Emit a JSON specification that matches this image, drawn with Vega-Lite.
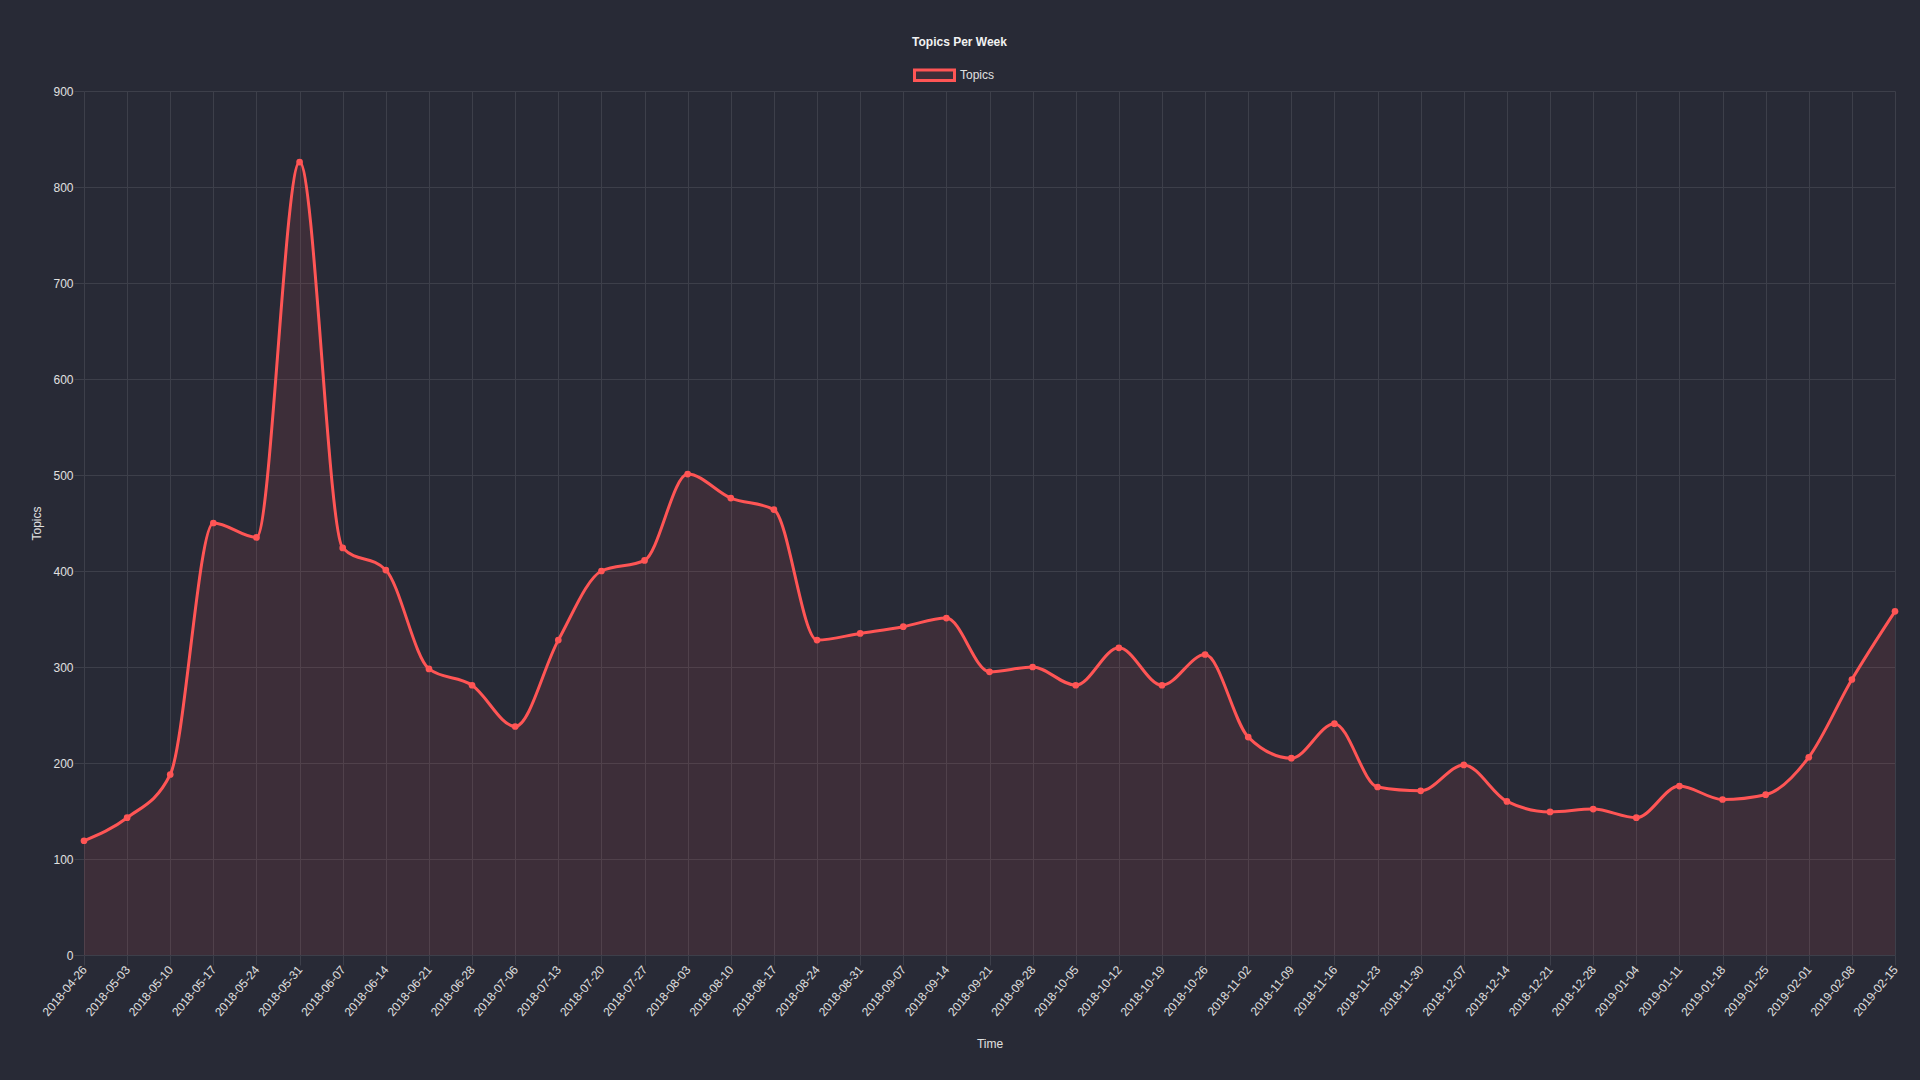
{
  "$schema": "https://vega.github.io/schema/vega-lite/v6.json",
  "width": 1811,
  "height": 864,
  "autosize": {"type": "none"},
  "padding": {"left": 84, "top": 91, "right": 25, "bottom": 125},
  "background": "#282a36",
  "title": {
    "text": "Topics Per Week",
    "fontSize": 12,
    "fontWeight": "bold",
    "color": "#f2f2f2",
    "font": "Liberation Sans",
    "anchor": "middle",
    "offset": 5,
    "dx": -30
  },
  "data": {
    "values": [
      {"week": "2018-04-26", "topics": 119},
      {"week": "2018-05-03", "topics": 143},
      {"week": "2018-05-10", "topics": 188},
      {"week": "2018-05-17", "topics": 450},
      {"week": "2018-05-24", "topics": 435},
      {"week": "2018-05-31", "topics": 826},
      {"week": "2018-06-07", "topics": 424},
      {"week": "2018-06-14", "topics": 401},
      {"week": "2018-06-21", "topics": 298},
      {"week": "2018-06-28", "topics": 281},
      {"week": "2018-07-06", "topics": 238},
      {"week": "2018-07-13", "topics": 328},
      {"week": "2018-07-20", "topics": 400},
      {"week": "2018-07-27", "topics": 411},
      {"week": "2018-08-03", "topics": 501},
      {"week": "2018-08-10", "topics": 476},
      {"week": "2018-08-17", "topics": 464},
      {"week": "2018-08-24", "topics": 328},
      {"week": "2018-08-31", "topics": 335},
      {"week": "2018-09-07", "topics": 342},
      {"week": "2018-09-14", "topics": 351},
      {"week": "2018-09-21", "topics": 295},
      {"week": "2018-09-28", "topics": 300},
      {"week": "2018-10-05", "topics": 281},
      {"week": "2018-10-12", "topics": 320},
      {"week": "2018-10-19", "topics": 281},
      {"week": "2018-10-26", "topics": 313},
      {"week": "2018-11-02", "topics": 227},
      {"week": "2018-11-09", "topics": 205},
      {"week": "2018-11-16", "topics": 241},
      {"week": "2018-11-23", "topics": 175},
      {"week": "2018-11-30", "topics": 171},
      {"week": "2018-12-07", "topics": 198},
      {"week": "2018-12-14", "topics": 160},
      {"week": "2018-12-21", "topics": 149},
      {"week": "2018-12-28", "topics": 152},
      {"week": "2019-01-04", "topics": 143},
      {"week": "2019-01-11", "topics": 176},
      {"week": "2019-01-18", "topics": 162},
      {"week": "2019-01-25", "topics": 167},
      {"week": "2019-02-01", "topics": 206},
      {"week": "2019-02-08", "topics": 287},
      {"week": "2019-02-15", "topics": 358}
    ]
  },
  "encoding": {
    "x": {
      "field": "week",
      "type": "ordinal",
      "sort": null,
      "scale": {"type": "point", "padding": 0},
      "axis": {
        "title": "Time",
        "titleX": 905.5,
        "titleY": 88,
        "titleAlign": "center",
        "titleBaseline": "middle",
        "labelAngle": -50,
        "labelAlign": "right",
        "labelBaseline": "middle",
        "labelPadding": 2,
        "labelOverlap": false,
        "tickSize": 10
      }
    },
    "y": {
      "field": "topics",
      "type": "quantitative",
      "scale": {"domain": [0, 900], "nice": false, "zero": true},
      "axis": {
        "title": "Topics",
        "values": [0, 100, 200, 300, 400, 500, 600, 700, 800, 900],
        "titleX": -48,
        "titleY": 432,
        "titleAngle": -90,
        "titleAlign": "center",
        "titleBaseline": "middle",
        "labelPadding": 1,
        "tickSize": 10
      }
    }
  },
  "layer": [
    {
      "mark": {"type": "area", "interpolate": "monotone", "color": "#ff5555", "opacity": 0.1}
    },
    {
      "mark": {"type": "line", "interpolate": "monotone", "strokeWidth": 3},
      "encoding": {
        "color": {
          "datum": "Topics",
          "scale": {"range": ["#ff5555"]},
          "legend": {
            "orient": "none",
            "legendX": 829,
            "legendY": -37.3,
            "title": null,
            "padding": 0,
            "labelOffset": 4,
            "labelColor": "#e0e0e0",
            "labelFontSize": 12,
            "labelFont": "Liberation Sans",
            "symbolSize": 1600,
            "encode": {
              "symbols": {
                "update": {
                  "shape": {"value": "M-1,-0.26H1V0.26H-1Z"},
                  "fill": {"value": "#3d2e39"},
                  "stroke": {"value": "#ff5555"},
                  "strokeWidth": {"value": 3},
                  "opacity": {"value": 1}
                }
              }
            }
          }
        }
      }
    },
    {
      "mark": {"type": "point", "filled": true, "size": 45, "color": "#ff5555", "opacity": 1}
    }
  ],
  "config": {
    "view": {"stroke": null},
    "axis": {
      "domain": false,
      "grid": true,
      "gridColor": "#3d3f4a",
      "gridOpacity": 1,
      "gridWidth": 1,
      "tickColor": "#3d3f4a",
      "tickWidth": 1,
      "labelColor": "#e0e0e0",
      "labelFont": "Liberation Sans",
      "labelFontSize": 12,
      "titleColor": "#e0e0e0",
      "titleFont": "Liberation Sans",
      "titleFontSize": 12,
      "titleFontWeight": "normal"
    }
  }
}
